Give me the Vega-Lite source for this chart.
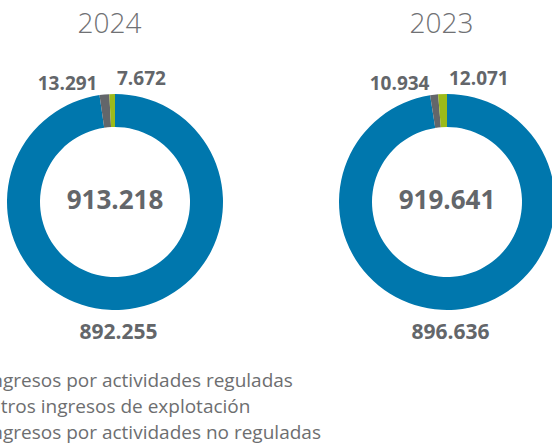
{
  "$schema": "https://vega.github.io/schema/vega-lite/v6.json",
  "width": 552,
  "height": 324,
  "autosize": {"type": "none"},
  "padding": {"left": 0, "right": 0, "top": 40, "bottom": 82},
  "background": "white",
  "config": {
    "view": {"stroke": null},
    "font": "Open Sans",
    "locale": {"number": {"decimal": ",", "thousands": ".", "grouping": [3], "currency": ["", " €"]}}
  },
  "data": {
    "values": [
      {"year": "2024", "category": "Ingresos por actividades reguladas", "orden": 1, "value": 892255},
      {"year": "2024", "category": "Otros ingresos de explotación", "orden": 2, "value": 13291},
      {"year": "2024", "category": "Ingresos por actividades no reguladas", "orden": 3, "value": 7672},
      {"year": "2023", "category": "Ingresos por actividades reguladas", "orden": 1, "value": 896636},
      {"year": "2023", "category": "Otros ingresos de explotación", "orden": 2, "value": 10934},
      {"year": "2023", "category": "Ingresos por actividades no reguladas", "orden": 3, "value": 12071}
    ]
  },
  "encoding": {
    "x": {
      "field": "year",
      "type": "nominal",
      "scale": {"type": "point", "domain": ["2024", "2023"], "range": [115, 447], "padding": 0},
      "axis": {
        "orient": "top",
        "title": null,
        "domain": false,
        "ticks": false,
        "tickSize": 0,
        "grid": false,
        "labelAngle": 0,
        "labelPadding": 8,
        "labelFontSize": 28,
        "labelFont": "Open Sans",
        "labelFontWeight": 300,
        "labelColor": "#707174",
        "labelBaseline": "alphabetic",
        "labelOffset": -6
      }
    }
  },
  "layer": [
    {
      "transform": [
        {"stack": "value", "groupby": ["year"], "sort": [{"field": "orden", "order": "ascending"}], "offset": "normalize", "as": ["t0", "t1"]}
      ],
      "mark": {"type": "arc", "innerRadius": 75, "outerRadius": 108},
      "encoding": {
        "theta": {"field": "t0", "type": "quantitative", "scale": {"domain": [0, 1]}},
        "theta2": {"field": "t1"},
        "color": {
          "field": "category",
          "type": "nominal",
          "scale": {
            "domain": ["Ingresos por actividades reguladas", "Otros ingresos de explotación", "Ingresos por actividades no reguladas"],
            "range": ["#0077ad", "#63666a", "#9cba1a"]
          },
          "legend": {
            "orient": "none",
            "legendX": -39,
            "legendY": 331,
            "title": null,
            "symbolType": "square",
            "symbolSize": 150,
            "symbolStrokeWidth": 0,
            "labelFontSize": 19,
            "labelFont": "Open Sans",
            "labelColor": "#6d6e70",
            "labelOffset": 6,
            "labelLimit": 0,
            "rowPadding": 6,
            "padding": 0
          }
        }
      }
    },
    {
      "transform": [{"filter": "datum.orden == 2"}],
      "mark": {"type": "text", "theta": 0, "radius": 112.5, "align": "right", "baseline": "alphabetic", "dx": -17.5, "fontSize": 19, "fontWeight": "bold", "color": "#63666a"},
      "encoding": {"text": {"field": "value", "type": "quantitative", "format": ",.0f"}}
    },
    {
      "transform": [{"filter": "datum.orden == 3"}],
      "mark": {"type": "text", "theta": 0, "radius": 117, "align": "left", "baseline": "alphabetic", "dx": 2, "fontSize": 19, "fontWeight": "bold", "color": "#63666a"},
      "encoding": {"text": {"field": "value", "type": "quantitative", "format": ",.0f"}}
    },
    {
      "transform": [{"filter": "datum.orden == 1"}],
      "mark": {"type": "text", "theta": 3.14159, "radius": 137, "align": "center", "baseline": "alphabetic", "dx": 3.5, "fontSize": 21, "fontWeight": "bold", "color": "#63666a"},
      "encoding": {"text": {"field": "value", "type": "quantitative", "format": ",.0f"}}
    },
    {
      "transform": [{"aggregate": [{"op": "sum", "field": "value", "as": "total"}], "groupby": ["year"]}],
      "mark": {"type": "text", "align": "center", "baseline": "middle", "dy": -1.5, "fontSize": 26, "fontWeight": "bold", "color": "#63666a"},
      "encoding": {"text": {"field": "total", "type": "quantitative", "format": ",.0f"}}
    }
  ]
}
